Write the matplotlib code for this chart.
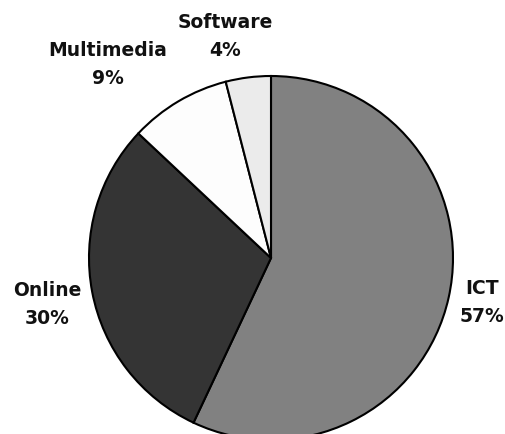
import matplotlib
matplotlib.use("Agg")
from matplotlib import pyplot as plt

# segment data (clockwise from 12 o'clock)
names = ["ICT", "Online", "Multimedia", "Software"]
shares = [57, 30, 9, 4]
colors = ["#818181", "#343434", "#fdfdfd", "#ebebeb"]

# label anchor points in pixel space (x, y from top)
label_pos = [(482, 303), (47, 305), (108, 64), (225, 36)]

fig = plt.figure(figsize=(5.06, 4.35), dpi=100)
ax = fig.add_axes([0, 0, 1, 1])
ax.axis("off")

ax.pie(shares, colors=colors, startangle=90, counterclock=False,
       center=(271, 435 - 259), radius=182,
       wedgeprops=dict(edgecolor="black", linewidth=1.5))
ax.set_xlim(0, 506)
ax.set_ylim(0, 435)
ax.set_aspect("equal")

for name, pct, (x, y) in zip(names, shares, label_pos):
    ax.text(x, 435 - y, f"{name}\n{pct}%", ha="center", va="center",
            fontsize=13.5, fontweight="bold", linespacing=1.6, color="#111111")

fig.savefig("out.png", dpi=100)
